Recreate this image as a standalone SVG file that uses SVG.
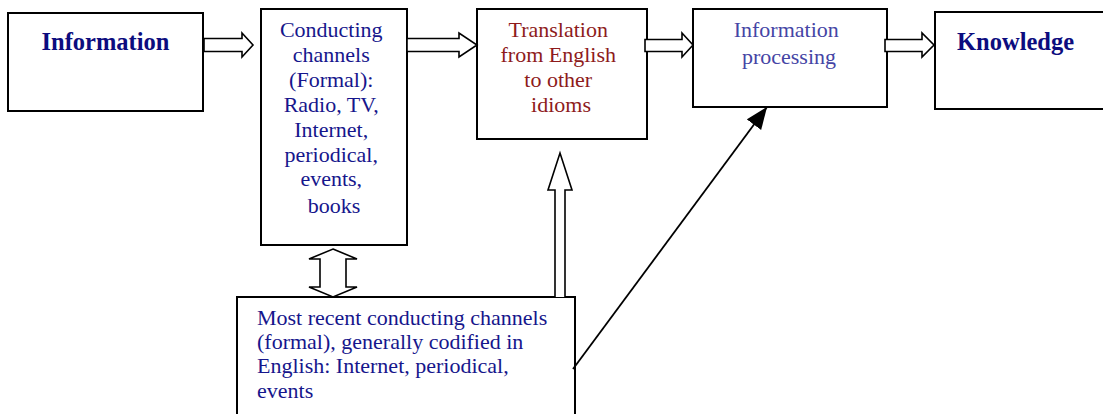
<svg xmlns="http://www.w3.org/2000/svg" width="1103" height="414" viewBox="0 0 1103 414">
<defs>
<style>
.box{fill:#fff;stroke:#000;stroke-width:2}
.blk{fill:#fff;stroke:#000;stroke-width:1.6;stroke-linejoin:miter}
.t{font-family:"Liberation Serif","DejaVu Serif",serif;font-size:22px}
.b{font-family:"Liberation Serif","DejaVu Serif",serif;font-size:24.5px;font-weight:bold;fill:#0c0c7e}
.navy{fill:#16168c}
.red{fill:#8e1b1b}
.blue{fill:#4545a5}
</style>
<marker id="ah" markerWidth="24" markerHeight="20" refX="22" refY="9" orient="auto" markerUnits="userSpaceOnUse">
<path d="M0,0 L22,9 L0,18 Z" fill="#000"/>
</marker>
</defs>
<g id="information">
<rect class="box" x="8" y="13" width="195" height="98"/>
<text class="b" x="105.5" y="50" text-anchor="middle">Information</text>
</g>
<g id="conducting">
<rect class="box" x="261" y="9" width="146" height="236"/>
<text class="t navy" text-anchor="middle">
<tspan x="334" y="37">Conducting</tspan>
<tspan x="334" y="62">channels</tspan>
<tspan x="334" y="87">(Formal):</tspan>
<tspan x="334" y="112">Radio, TV,</tspan>
<tspan x="334" y="137">Internet,</tspan>
<tspan x="334" y="162">periodical,</tspan>
<tspan x="334" y="186">events,</tspan>
<tspan x="334" y="213">books</tspan>
</text>
</g>
<g id="translation">
<rect class="box" x="477" y="9" width="170" height="130"/>
<text class="t red" text-anchor="middle">
<tspan x="561" y="37">Translation</tspan>
<tspan x="561" y="62">from English</tspan>
<tspan x="561" y="87">to other</tspan>
<tspan x="561" y="112">idioms</tspan>
</text>
</g>
<g id="processing">
<rect class="box" x="693" y="9" width="194" height="98"/>
<text class="t blue" text-anchor="middle">
<tspan x="789" y="37">Information</tspan>
<tspan x="789" y="64">processing</tspan>
</text>
</g>
<g id="knowledge">
<rect class="box" x="935" y="12" width="180" height="97"/>
<text class="b" x="957" y="50">Knowledge</text>
</g>
<g id="recent">
<rect class="box" x="237" y="297" width="338" height="130"/>
<text class="t navy">
<tspan x="257" y="325">Most recent conducting channels</tspan>
<tspan x="257" y="349">(formal), generally codified in</tspan>
<tspan x="257" y="373">English: Internet, periodical,</tspan>
<tspan x="257" y="398">events</tspan>
</text>
</g>
<g id="connectors">
<path class="blk" d="M204,38.5 L242,38.5 L242,33 L253,45 L242,57 L242,51.5 L204,51.5 Z"/>
<path class="blk" d="M407,38.5 L459,38.5 L459,33 L477,45 L459,57 L459,51.5 L407,51.5 Z"/>
<path class="blk" d="M645,39.5 L682,39.5 L682,33 L693,45 L682,57 L682,51.5 L645,51.5 Z"/>
<path class="blk" d="M885,39.5 L922,39.5 L922,33 L934,45 L922,57 L922,51.5 L885,51.5 Z"/>
<path class="blk" d="M555,297 L555,190 L548,190 L560,153 L572,190 L565,190 L565,297"/>
<path class="blk" d="M333,249 L357,259 L346,259 L346,287 L357,287 L333,297 L309,287 L320,287 L320,259 L309,259 Z"/>
<line x1="573" y1="369" x2="767" y2="107" stroke="#000" stroke-width="1.8" marker-end="url(#ah)"/>
</g>
</svg>
